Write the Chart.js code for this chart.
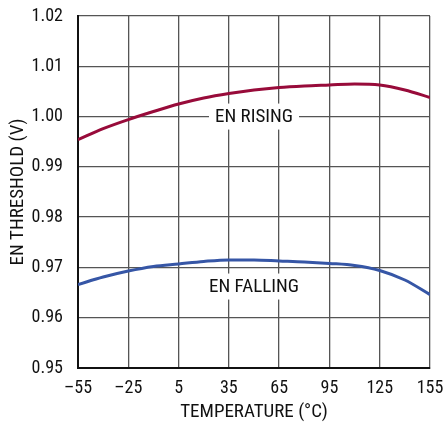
<!DOCTYPE html>
<html>
<head>
<meta charset="utf-8">
<script src="https://cdn.jsdelivr.net/npm/chart.js@4/dist/chart.umd.min.js"></script>
<style>
  html, body { margin: 0; padding: 0; background: #fff; }
  #wrap { width: 445px; height: 426px; }
</style>
</head>
<body>
<div id="wrap"><canvas id="grafica" width="445" height="426"></canvas></div>
<script>
// Datos
const temperaturas = [-55, -40, -25, -10, 5, 20, 35, 50, 65, 80, 95, 110, 125, 140, 155];
const enRising = [0.9954, 0.9976, 0.9994, 1.0010, 1.0025, 1.0037, 1.0046, 1.0053, 1.0058, 1.0061, 1.0063, 1.0065, 1.0063, 1.0053, 1.0038];
const enFalling = [0.9666, 0.9681, 0.9693, 0.9702, 0.9707, 0.9712, 0.9715, 0.9715, 0.9713, 0.9711, 0.9708, 0.9704, 0.9694, 0.9675, 0.9646];
const etiquetas = [
    { texto: "EN RISING", x: 50, y: 1.0 },
    { texto: "EN FALLING", x: 50, y: 0.9662 }
];

const fuente = "'Liberation Sans Narrow', 'Roboto Condensed', 'Liberation Sans', sans-serif";

// Plugin para los textos dentro del área de la gráfica
const textosCurvas = {
    id: 'textosCurvas',
    afterDatasetsDraw(chart) {
        const ctx = chart.ctx;
        const sx = chart.scales.x, sy = chart.scales.y;
        ctx.save();
        ctx.font = "19px " + fuente;
        ctx.textAlign = 'center';
        ctx.textBaseline = 'middle';
        etiquetas.forEach(e => {
            const px = sx.getPixelForValue(e.x);
            const py = sy.getPixelForValue(e.y);
            const w = ctx.measureText(e.texto).width;
            ctx.fillStyle = '#fff';
            ctx.fillRect(px - w / 2 - 6, py - 13, w + 12, 26);
            ctx.fillStyle = '#111';
            ctx.fillText(e.texto, px, py + 1);
        });
        ctx.restore();
    }
};

// Quitar el relleno automático de las etiquetas de los ejes
const sinRelleno = s => { s.paddingTop = 0; s.paddingBottom = 0; s.paddingLeft = 0; s.paddingRight = 0; };

const ctx = document.getElementById('grafica').getContext('2d');
new Chart(ctx, {
    type: 'line',
    data: {
        datasets: [{
            label: 'EN RISING',
            data: temperaturas.map((t, i) => ({ x: t, y: enRising[i] })),
            borderColor: '#980b3a',
            borderWidth: 3,
            pointRadius: 0,
            fill: false,
            cubicInterpolationMode: 'monotone'
        },
        {
            label: 'EN FALLING',
            data: temperaturas.map((t, i) => ({ x: t, y: enFalling[i] })),
            borderColor: '#3656a6',
            borderWidth: 3,
            pointRadius: 0,
            fill: false,
            cubicInterpolationMode: 'monotone'
        }]
    },
    options: {
        responsive: false,
        animation: false,
        layout: { padding: { top: 16, right: 15, bottom: 0, left: 0 } },
        plugins: { legend: { display: false }, tooltip: { enabled: false } },
        scales: {
            x: {
                type: 'linear',
                min: -55, max: 155,
                afterFit: s => { s.height = 58; sinRelleno(s); },
                ticks: {
                    stepSize: 30,
                    color: '#111',
                    font: { family: fuente, size: 18 },
                    padding: 10,
                    maxRotation: 0,
                    callback: v => String(v).replace('-', '\u2013')
                },
                grid: { color: '#555', lineWidth: 1.3, drawTicks: false },
                border: { color: '#111', width: 2 },
                title: {
                    display: true, text: 'TEMPERATURE (°C)', color: '#111',
                    font: { family: fuente, size: 19 }, padding: { top: 0, bottom: 2 }
                }
            },
            y: {
                min: 0.95, max: 1.02,
                afterFit: s => { s.width = 78; sinRelleno(s); },
                ticks: {
                    stepSize: 0.01,
                    color: '#111',
                    font: { family: fuente, size: 18 },
                    padding: 15,
                    callback: v => v.toFixed(2)
                },
                grid: { color: '#555', lineWidth: 1.3, drawTicks: false },
                border: { color: '#111', width: 2 },
                title: {
                    display: true, text: 'EN THRESHOLD (V)', color: '#111',
                    font: { family: fuente, size: 19 }, padding: { top: 7, bottom: 0 }
                }
            }
        }
    },
    plugins: [textosCurvas]
});
</script>
</body>
</html>
